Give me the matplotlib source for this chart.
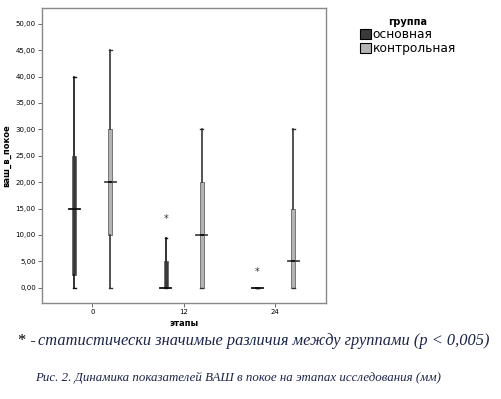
import numpy as np
import matplotlib.pyplot as plt
from matplotlib.patches import Patch

plt.rcParams['font.family'] = 'DejaVu Sans'

# этапы и группы
stages = ['0', '12', '24']
groups = ['основная', 'контрольная']

# значения ВАШ в покое (мм): [этап 0, этап 12, этап 24]
main_lo = [0, 0, 0]
main_q1 = [2.5, 0, 0]
main_med = [15, 0, 0]
main_q3 = [25, 5, 0]
main_hi = [40, 9.5, 0]

ctrl_lo = [0, 0, 0]
ctrl_q1 = [10, 0, 0]
ctrl_med = [20, 10, 5]
ctrl_q3 = [30, 20, 15]
ctrl_hi = [45, 30, 30]

# звездочки (значимые различия)
star_stage = [1, 2]
star_val = [13, 3]

yticks = [0, 5, 10, 15, 20, 25, 30, 35, 40, 45, 50]

main_color = '#3a3a3a'
ctrl_color = '#b4b4b4'


def make_stats(lo, q1, med, q3, hi):
    return [dict(whislo=lo[i], q1=q1[i], med=med[i], q3=q3[i], whishi=hi[i], fliers=[])
            for i in range(len(lo))]


fig = plt.figure(figsize=(5.02, 3.99), dpi=100)
ax = fig.add_axes([0.0837, 0.2406, 0.565, 0.7394])

pos = np.arange(len(stages))
off = 0.196

for stats, x, fc, wc in [(make_stats(main_lo, main_q1, main_med, main_q3, main_hi), pos - off, main_color, '#111111'),
                         (make_stats(ctrl_lo, ctrl_q1, ctrl_med, ctrl_q3, ctrl_hi), pos + off, ctrl_color, '#333333')]:
    ax.bxp(stats, positions=x, widths=0.045, patch_artist=True, showfliers=False,
           boxprops=dict(facecolor=fc, edgecolor='#666666', linewidth=0.6),
           medianprops=dict(color='#111111', linewidth=1.3),
           whiskerprops=dict(color=wc, linewidth=1.2),
           capprops=dict(color=wc, linewidth=1.0),
           capwidths=0.03)

# медианы шире боксов
for i in range(len(stages)):
    ax.plot([pos[i] - off - 0.06, pos[i] - off + 0.06], [main_med[i]] * 2, color='#111111', lw=1.3)
    ax.plot([pos[i] + off - 0.06, pos[i] + off + 0.06], [ctrl_med[i]] * 2, color='#444444', lw=1.3)

for s, v in zip(star_stage, star_val):
    ax.text(pos[s] - off, v, '*', ha='center', va='center', fontsize=7, color='#333333')

ax.set_xlim(-0.55, 2.55)
ax.set_ylim(-2.9, 53)
ax.set_xticks(pos)
ax.set_xticklabels(stages, fontsize=5)
ax.set_yticks(yticks)
ax.set_yticklabels([('%.2f' % v).replace('.', ',') for v in yticks], fontsize=5)
ax.tick_params(length=3, width=0.6, color='#555555', pad=1.5)
for sp in ax.spines.values():
    sp.set_color('#888888')
    sp.set_linewidth(1.0)

ax.set_ylabel('ваш_в_покое', fontsize=6, fontweight='bold', labelpad=3)
ax.set_xlabel('этапы', fontsize=6, fontweight='bold', labelpad=3)

handles = [Patch(facecolor=main_color, edgecolor='black', linewidth=0.8),
           Patch(facecolor=ctrl_color, edgecolor='black', linewidth=0.8)]
leg = fig.legend(handles, groups, title='группа', loc='upper left', bbox_to_anchor=(0.695, 0.985),
                 frameon=False, fontsize=8.8, title_fontproperties={'size': 7, 'weight': 'bold'},
                 handlelength=0.9, handleheight=0.9, handletextpad=0.15, labelspacing=0.1)

fig.text(0.035, 0.145, '* - ', fontsize=11.8, color='black', family='Liberation Serif', va='center')
fig.text(0.075, 0.145, 'статистически значимые различия между группами (р < 0,005)', fontsize=11.8,
         style='italic', color='#1a2448', family='Liberation Serif', va='center')
fig.text(0.07, 0.053, 'Рис. 2. Динамика показателей ВАШ в покое на этапах исследования (мм)', fontsize=9.3,
         style='italic', color='#1a2448', family='Liberation Serif', va='center')

fig.savefig('out.png', dpi=100)
